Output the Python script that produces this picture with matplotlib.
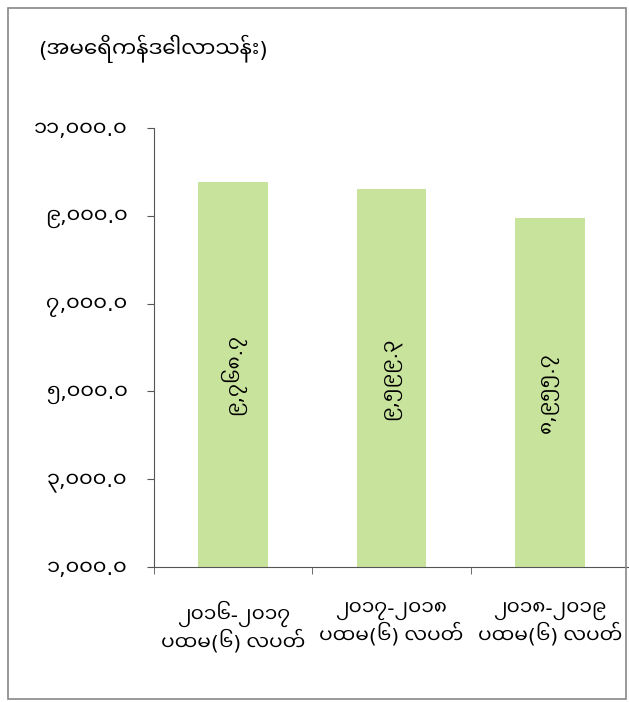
import matplotlib
matplotlib.use('Agg')
import matplotlib.pyplot as plt
from matplotlib.patches import Rectangle

# 数据
periods = ['၂၀၁၆-၂၀၁၇\nပထမ(၆) လပတ်', '၂၀၁၇-၂၀၁၈\nပထမ(၆) လပတ်', '၂၀၁၈-၂၀၁၉\nပထမ(၆) လပတ်']
values = [9768.7, 9599.3, 8955.7]
value_labels = ['၉,၇၆၈.၇', '၉,၅၉၉.၃', '၈,၉၅၅.၇']
y_ticks = [1000, 3000, 5000, 7000, 9000, 11000]
y_tick_labels = ['၁,၀၀၀.၀', '၃,၀၀၀.၀', '၅,၀၀၀.၀', '၇,၀၀၀.၀', '၉,၀၀၀.၀', '၁၁,၀၀၀.၀']
unit_label = '(အမေရိကန်ဒေါ်လာသန်း)'

# 缅甸文字体, 标点用 DejaVu 补
plt.rcParams['font.family'] = ['Noto Sans Myanmar UI', 'DejaVu Sans']

fig = plt.figure(figsize=(6.29, 7.02), dpi=100)
ax = fig.add_axes([0.245, 0.192, 0.755, 0.626])

x = range(len(values))
ax.bar(x, values, width=0.44, color='#c8e39b')
ax.set_xlim(-0.5, 2.5)
ax.set_ylim(1000, 11000)

# 柱内数值(竖排)
for i, v in enumerate(values):
    ax.text(i, (1000 + v) / 2, value_labels[i], rotation=90,
            ha='center', va='center', fontsize=14.5, color='black')

ax.set_yticks(y_ticks)
ax.set_yticklabels(y_tick_labels, fontsize=15)
ax.set_xticks(list(x))
ax.set_xticklabels(periods, fontsize=14.5, linespacing=1.15)
ax.tick_params(axis='x', length=0, pad=24)
ax.set_xticks([-0.5, 0.5, 1.5], minor=True)
ax.tick_params(axis='x', which='minor', length=5, direction='out', color='#555555')
ax.tick_params(axis='y', length=5, direction='out', color='#555555', pad=14)

for s in ['top', 'right']:
    ax.spines[s].set_visible(False)
ax.spines['left'].set_color('#555555')
ax.spines['bottom'].set_color('#555555')

# 单位
fig.text(0.06, 0.93, unit_label, fontsize=15.5, ha='left', va='center')

# 外框
fig.patches.append(Rectangle((0.013, 0.004), 0.982, 0.984, transform=fig.transFigure,
                             fill=False, edgecolor='#888888', lw=1.2))

fig.savefig('out.png', dpi=100)
